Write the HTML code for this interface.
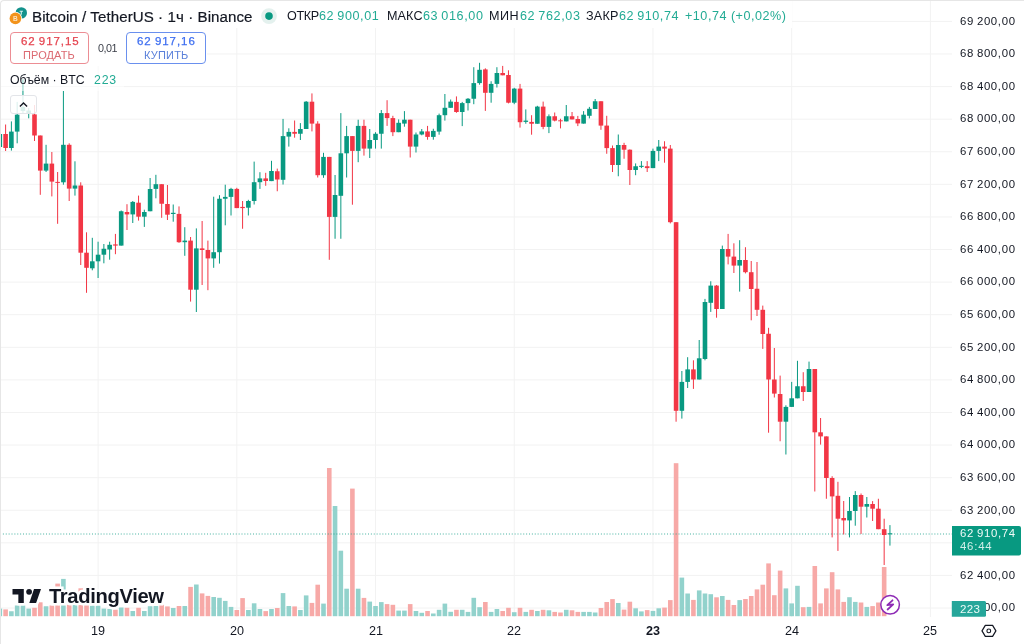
<!DOCTYPE html>
<html><head><meta charset="utf-8">
<style>
html,body{margin:0;padding:0;background:#fff;}
body{width:1024px;height:644px;overflow:hidden;position:relative;font-family:"Liberation Sans",sans-serif;}
.t{position:absolute;white-space:pre;font-family:"Liberation Sans",sans-serif;will-change:transform;}
#chart{position:absolute;left:0;top:0;}
.frame{position:absolute;left:0;top:0;width:1040px;height:700px;border-left:1px solid #e6e6e6;border-top:1px solid #e6e6e6;border-top-left-radius:4px;box-sizing:border-box;}
.box{position:absolute;box-sizing:border-box;border-radius:4px;background:#fff;}
</style></head><body>
<svg id="chart" width="1024" height="644" viewBox="0 0 1024 644">
<line x1='0' y1='21.40' x2='952' y2='21.40' stroke='#f2f2f2' stroke-width='1'/>
<line x1='0' y1='53.99' x2='952' y2='53.99' stroke='#f2f2f2' stroke-width='1'/>
<line x1='0' y1='86.58' x2='952' y2='86.58' stroke='#f2f2f2' stroke-width='1'/>
<line x1='0' y1='119.17' x2='952' y2='119.17' stroke='#f2f2f2' stroke-width='1'/>
<line x1='0' y1='151.76' x2='952' y2='151.76' stroke='#f2f2f2' stroke-width='1'/>
<line x1='0' y1='184.35' x2='952' y2='184.35' stroke='#f2f2f2' stroke-width='1'/>
<line x1='0' y1='216.94' x2='952' y2='216.94' stroke='#f2f2f2' stroke-width='1'/>
<line x1='0' y1='249.53' x2='952' y2='249.53' stroke='#f2f2f2' stroke-width='1'/>
<line x1='0' y1='282.12' x2='952' y2='282.12' stroke='#f2f2f2' stroke-width='1'/>
<line x1='0' y1='314.71' x2='952' y2='314.71' stroke='#f2f2f2' stroke-width='1'/>
<line x1='0' y1='347.30' x2='952' y2='347.30' stroke='#f2f2f2' stroke-width='1'/>
<line x1='0' y1='379.89' x2='952' y2='379.89' stroke='#f2f2f2' stroke-width='1'/>
<line x1='0' y1='412.48' x2='952' y2='412.48' stroke='#f2f2f2' stroke-width='1'/>
<line x1='0' y1='445.07' x2='952' y2='445.07' stroke='#f2f2f2' stroke-width='1'/>
<line x1='0' y1='477.66' x2='952' y2='477.66' stroke='#f2f2f2' stroke-width='1'/>
<line x1='0' y1='510.25' x2='952' y2='510.25' stroke='#f2f2f2' stroke-width='1'/>
<line x1='0' y1='542.84' x2='952' y2='542.84' stroke='#f2f2f2' stroke-width='1'/>
<line x1='0' y1='575.43' x2='952' y2='575.43' stroke='#f2f2f2' stroke-width='1'/>
<line x1='0' y1='608.02' x2='952' y2='608.02' stroke='#f2f2f2' stroke-width='1'/>
<line x1='98.08' y1='0' x2='98.08' y2='617' stroke='#f2f2f2' stroke-width='1'/>
<line x1='236.80' y1='0' x2='236.80' y2='617' stroke='#f2f2f2' stroke-width='1'/>
<line x1='375.52' y1='0' x2='375.52' y2='617' stroke='#f2f2f2' stroke-width='1'/>
<line x1='514.24' y1='0' x2='514.24' y2='617' stroke='#f2f2f2' stroke-width='1'/>
<line x1='652.96' y1='0' x2='652.96' y2='617' stroke='#f2f2f2' stroke-width='1'/>
<line x1='791.68' y1='0' x2='791.68' y2='617' stroke='#f2f2f2' stroke-width='1'/>
<line x1='930.40' y1='0' x2='930.40' y2='617' stroke='#f2f2f2' stroke-width='1'/>
<rect x='-2.48' y='608.60' width='4.6' height='7.60' fill='#92d2cc'/>
<rect x='3.30' y='609.40' width='4.6' height='6.80' fill='#f7a9a7'/>
<rect x='9.08' y='611.25' width='4.6' height='4.95' fill='#92d2cc'/>
<rect x='14.86' y='605.50' width='4.6' height='10.70' fill='#92d2cc'/>
<rect x='20.64' y='605.50' width='4.6' height='10.70' fill='#92d2cc'/>
<rect x='26.42' y='608.60' width='4.6' height='7.60' fill='#92d2cc'/>
<rect x='32.20' y='607.80' width='4.6' height='8.40' fill='#f7a9a7'/>
<rect x='37.98' y='602.30' width='4.6' height='13.90' fill='#f7a9a7'/>
<rect x='43.76' y='606.25' width='4.6' height='9.95' fill='#92d2cc'/>
<rect x='49.54' y='605.50' width='4.6' height='10.70' fill='#f7a9a7'/>
<rect x='55.32' y='583.60' width='4.6' height='32.60' fill='#f7a9a7'/>
<rect x='61.10' y='578.90' width='4.6' height='37.30' fill='#92d2cc'/>
<rect x='66.88' y='604.70' width='4.6' height='11.50' fill='#f7a9a7'/>
<rect x='72.66' y='604.70' width='4.6' height='11.50' fill='#92d2cc'/>
<rect x='78.44' y='588.30' width='4.6' height='27.90' fill='#f7a9a7'/>
<rect x='84.22' y='604.70' width='4.6' height='11.50' fill='#f7a9a7'/>
<rect x='90.00' y='605.50' width='4.6' height='10.70' fill='#92d2cc'/>
<rect x='95.78' y='605.50' width='4.6' height='10.70' fill='#92d2cc'/>
<rect x='101.56' y='608.60' width='4.6' height='7.60' fill='#92d2cc'/>
<rect x='107.34' y='609.00' width='4.6' height='7.20' fill='#92d2cc'/>
<rect x='113.12' y='609.70' width='4.6' height='6.50' fill='#f7a9a7'/>
<rect x='118.90' y='607.50' width='4.6' height='8.70' fill='#92d2cc'/>
<rect x='124.68' y='607.80' width='4.6' height='8.40' fill='#f7a9a7'/>
<rect x='130.46' y='611.00' width='4.6' height='5.20' fill='#92d2cc'/>
<rect x='136.24' y='607.80' width='4.6' height='8.40' fill='#f7a9a7'/>
<rect x='142.02' y='611.00' width='4.6' height='5.20' fill='#92d2cc'/>
<rect x='147.80' y='606.20' width='4.6' height='10.00' fill='#92d2cc'/>
<rect x='153.58' y='606.00' width='4.6' height='10.20' fill='#92d2cc'/>
<rect x='159.36' y='604.80' width='4.6' height='11.40' fill='#f7a9a7'/>
<rect x='165.14' y='606.40' width='4.6' height='9.80' fill='#f7a9a7'/>
<rect x='170.92' y='608.00' width='4.6' height='8.20' fill='#92d2cc'/>
<rect x='176.70' y='606.00' width='4.6' height='10.20' fill='#f7a9a7'/>
<rect x='182.48' y='606.00' width='4.6' height='10.20' fill='#92d2cc'/>
<rect x='188.26' y='586.90' width='4.6' height='29.30' fill='#f7a9a7'/>
<rect x='194.04' y='584.50' width='4.6' height='31.70' fill='#92d2cc'/>
<rect x='199.82' y='593.40' width='4.6' height='22.80' fill='#f7a9a7'/>
<rect x='205.60' y='595.90' width='4.6' height='20.30' fill='#f7a9a7'/>
<rect x='211.38' y='597.00' width='4.6' height='19.20' fill='#92d2cc'/>
<rect x='217.16' y='597.80' width='4.6' height='18.40' fill='#92d2cc'/>
<rect x='222.94' y='600.90' width='4.6' height='15.30' fill='#92d2cc'/>
<rect x='228.72' y='606.90' width='4.6' height='9.30' fill='#92d2cc'/>
<rect x='234.50' y='610.00' width='4.6' height='6.20' fill='#f7a9a7'/>
<rect x='240.28' y='598.10' width='4.6' height='18.10' fill='#f7a9a7'/>
<rect x='246.06' y='610.00' width='4.6' height='6.20' fill='#92d2cc'/>
<rect x='251.84' y='603.30' width='4.6' height='12.90' fill='#92d2cc'/>
<rect x='257.62' y='609.00' width='4.6' height='7.20' fill='#92d2cc'/>
<rect x='263.40' y='611.10' width='4.6' height='5.10' fill='#f7a9a7'/>
<rect x='269.18' y='609.00' width='4.6' height='7.20' fill='#92d2cc'/>
<rect x='274.96' y='608.00' width='4.6' height='8.20' fill='#f7a9a7'/>
<rect x='280.74' y='593.10' width='4.6' height='23.10' fill='#92d2cc'/>
<rect x='286.52' y='606.00' width='4.6' height='10.20' fill='#92d2cc'/>
<rect x='292.30' y='606.40' width='4.6' height='9.80' fill='#f7a9a7'/>
<rect x='298.08' y='610.00' width='4.6' height='6.20' fill='#92d2cc'/>
<rect x='303.86' y='595.40' width='4.6' height='20.80' fill='#92d2cc'/>
<rect x='309.64' y='602.90' width='4.6' height='13.30' fill='#f7a9a7'/>
<rect x='315.42' y='584.70' width='4.6' height='31.50' fill='#f7a9a7'/>
<rect x='321.20' y='603.60' width='4.6' height='12.60' fill='#92d2cc'/>
<rect x='326.98' y='468.00' width='4.6' height='148.20' fill='#f7a9a7'/>
<rect x='332.76' y='506.00' width='4.6' height='110.20' fill='#92d2cc'/>
<rect x='338.54' y='550.70' width='4.6' height='65.50' fill='#92d2cc'/>
<rect x='344.32' y='588.70' width='4.6' height='27.50' fill='#92d2cc'/>
<rect x='350.10' y='488.60' width='4.6' height='127.60' fill='#f7a9a7'/>
<rect x='355.88' y='588.70' width='4.6' height='27.50' fill='#92d2cc'/>
<rect x='361.66' y='597.90' width='4.6' height='18.30' fill='#f7a9a7'/>
<rect x='367.44' y='601.60' width='4.6' height='14.60' fill='#92d2cc'/>
<rect x='373.22' y='606.00' width='4.6' height='10.20' fill='#92d2cc'/>
<rect x='379.00' y='602.10' width='4.6' height='14.10' fill='#92d2cc'/>
<rect x='384.78' y='604.10' width='4.6' height='12.10' fill='#f7a9a7'/>
<rect x='390.56' y='604.80' width='4.6' height='11.40' fill='#f7a9a7'/>
<rect x='396.34' y='610.60' width='4.6' height='5.60' fill='#92d2cc'/>
<rect x='402.12' y='610.60' width='4.6' height='5.60' fill='#92d2cc'/>
<rect x='407.90' y='604.10' width='4.6' height='12.10' fill='#f7a9a7'/>
<rect x='413.68' y='611.00' width='4.6' height='5.20' fill='#92d2cc'/>
<rect x='419.46' y='612.80' width='4.6' height='3.40' fill='#92d2cc'/>
<rect x='425.24' y='611.00' width='4.6' height='5.20' fill='#f7a9a7'/>
<rect x='431.02' y='613.50' width='4.6' height='2.70' fill='#92d2cc'/>
<rect x='436.80' y='609.80' width='4.6' height='6.40' fill='#92d2cc'/>
<rect x='442.58' y='603.60' width='4.6' height='12.60' fill='#92d2cc'/>
<rect x='448.36' y='611.80' width='4.6' height='4.40' fill='#92d2cc'/>
<rect x='454.14' y='609.80' width='4.6' height='6.40' fill='#f7a9a7'/>
<rect x='459.92' y='609.80' width='4.6' height='6.40' fill='#92d2cc'/>
<rect x='465.70' y='611.90' width='4.6' height='4.30' fill='#92d2cc'/>
<rect x='471.48' y='597.80' width='4.6' height='18.40' fill='#92d2cc'/>
<rect x='477.26' y='607.20' width='4.6' height='9.00' fill='#92d2cc'/>
<rect x='483.04' y='602.00' width='4.6' height='14.20' fill='#f7a9a7'/>
<rect x='488.82' y='611.90' width='4.6' height='4.30' fill='#92d2cc'/>
<rect x='494.60' y='609.00' width='4.6' height='7.20' fill='#92d2cc'/>
<rect x='500.38' y='611.00' width='4.6' height='5.20' fill='#f7a9a7'/>
<rect x='506.16' y='607.80' width='4.6' height='8.40' fill='#f7a9a7'/>
<rect x='511.94' y='612.20' width='4.6' height='4.00' fill='#92d2cc'/>
<rect x='517.72' y='607.80' width='4.6' height='8.40' fill='#f7a9a7'/>
<rect x='523.50' y='611.90' width='4.6' height='4.30' fill='#92d2cc'/>
<rect x='529.28' y='609.80' width='4.6' height='6.40' fill='#f7a9a7'/>
<rect x='535.06' y='611.00' width='4.6' height='5.20' fill='#92d2cc'/>
<rect x='540.84' y='609.80' width='4.6' height='6.40' fill='#f7a9a7'/>
<rect x='546.62' y='610.30' width='4.6' height='5.90' fill='#92d2cc'/>
<rect x='552.40' y='611.90' width='4.6' height='4.30' fill='#f7a9a7'/>
<rect x='558.18' y='612.50' width='4.6' height='3.70' fill='#f7a9a7'/>
<rect x='563.96' y='609.80' width='4.6' height='6.40' fill='#92d2cc'/>
<rect x='569.74' y='610.30' width='4.6' height='5.90' fill='#f7a9a7'/>
<rect x='575.52' y='611.90' width='4.6' height='4.30' fill='#f7a9a7'/>
<rect x='581.30' y='611.90' width='4.6' height='4.30' fill='#92d2cc'/>
<rect x='587.08' y='611.90' width='4.6' height='4.30' fill='#92d2cc'/>
<rect x='592.86' y='612.50' width='4.6' height='3.70' fill='#92d2cc'/>
<rect x='598.64' y='608.00' width='4.6' height='8.20' fill='#f7a9a7'/>
<rect x='604.42' y='602.00' width='4.6' height='14.20' fill='#f7a9a7'/>
<rect x='610.20' y='599.10' width='4.6' height='17.10' fill='#f7a9a7'/>
<rect x='615.98' y='603.00' width='4.6' height='13.20' fill='#92d2cc'/>
<rect x='621.76' y='609.60' width='4.6' height='6.60' fill='#f7a9a7'/>
<rect x='627.54' y='601.70' width='4.6' height='14.50' fill='#f7a9a7'/>
<rect x='633.32' y='608.30' width='4.6' height='7.90' fill='#92d2cc'/>
<rect x='639.10' y='611.40' width='4.6' height='4.80' fill='#92d2cc'/>
<rect x='644.88' y='610.10' width='4.6' height='6.10' fill='#f7a9a7'/>
<rect x='650.66' y='610.90' width='4.6' height='5.30' fill='#92d2cc'/>
<rect x='656.44' y='608.30' width='4.6' height='7.90' fill='#92d2cc'/>
<rect x='662.22' y='607.60' width='4.6' height='8.60' fill='#f7a9a7'/>
<rect x='668.00' y='600.10' width='4.6' height='16.10' fill='#f7a9a7'/>
<rect x='673.78' y='463.20' width='4.6' height='153.00' fill='#f7a9a7'/>
<rect x='679.56' y='577.60' width='4.6' height='38.60' fill='#92d2cc'/>
<rect x='685.34' y='593.50' width='4.6' height='22.70' fill='#92d2cc'/>
<rect x='691.12' y='599.90' width='4.6' height='16.30' fill='#f7a9a7'/>
<rect x='696.90' y='590.40' width='4.6' height='25.80' fill='#92d2cc'/>
<rect x='702.68' y='593.50' width='4.6' height='22.70' fill='#92d2cc'/>
<rect x='708.46' y='594.20' width='4.6' height='22.00' fill='#92d2cc'/>
<rect x='714.24' y='597.30' width='4.6' height='18.90' fill='#f7a9a7'/>
<rect x='720.02' y='596.00' width='4.6' height='20.20' fill='#92d2cc'/>
<rect x='725.80' y='599.90' width='4.6' height='16.30' fill='#f7a9a7'/>
<rect x='731.58' y='605.00' width='4.6' height='11.20' fill='#f7a9a7'/>
<rect x='737.36' y='600.10' width='4.6' height='16.10' fill='#92d2cc'/>
<rect x='743.14' y='599.00' width='4.6' height='17.20' fill='#f7a9a7'/>
<rect x='748.92' y='596.00' width='4.6' height='20.20' fill='#f7a9a7'/>
<rect x='754.70' y='589.40' width='4.6' height='26.80' fill='#f7a9a7'/>
<rect x='760.48' y='584.70' width='4.6' height='31.50' fill='#f7a9a7'/>
<rect x='766.26' y='563.40' width='4.6' height='52.80' fill='#f7a9a7'/>
<rect x='772.04' y='595.20' width='4.6' height='21.00' fill='#f7a9a7'/>
<rect x='777.82' y='570.60' width='4.6' height='45.60' fill='#f7a9a7'/>
<rect x='783.60' y='588.40' width='4.6' height='27.80' fill='#92d2cc'/>
<rect x='789.38' y='603.40' width='4.6' height='12.80' fill='#92d2cc'/>
<rect x='795.16' y='585.80' width='4.6' height='30.40' fill='#92d2cc'/>
<rect x='800.94' y='607.20' width='4.6' height='9.00' fill='#f7a9a7'/>
<rect x='806.72' y='606.90' width='4.6' height='9.30' fill='#92d2cc'/>
<rect x='812.50' y='566.00' width='4.6' height='50.20' fill='#f7a9a7'/>
<rect x='818.28' y='603.40' width='4.6' height='12.80' fill='#f7a9a7'/>
<rect x='824.06' y='588.40' width='4.6' height='27.80' fill='#f7a9a7'/>
<rect x='829.84' y='572.20' width='4.6' height='44.00' fill='#f7a9a7'/>
<rect x='835.62' y='589.40' width='4.6' height='26.80' fill='#f7a9a7'/>
<rect x='841.40' y='601.90' width='4.6' height='14.30' fill='#f7a9a7'/>
<rect x='847.18' y='597.20' width='4.6' height='19.00' fill='#92d2cc'/>
<rect x='852.96' y='601.90' width='4.6' height='14.30' fill='#92d2cc'/>
<rect x='858.74' y='602.50' width='4.6' height='13.70' fill='#f7a9a7'/>
<rect x='864.52' y='606.90' width='4.6' height='9.30' fill='#92d2cc'/>
<rect x='870.30' y='606.10' width='4.6' height='10.10' fill='#f7a9a7'/>
<rect x='876.08' y='602.50' width='4.6' height='13.70' fill='#f7a9a7'/>
<rect x='881.86' y='567.00' width='4.6' height='49.20' fill='#f7a9a7'/>
<line x1='0' y1='534' x2='952' y2='534' stroke='#089981' stroke-width='1' stroke-dasharray='1 1.875' opacity='0.75'/>
<rect x='-0.68' y='134.00' width='1' height='16.00' fill='#089981'/>
<rect x='-2.48' y='134.00' width='4.6' height='13.00' fill='#089981'/>
<rect x='5.10' y='124.50' width='1' height='26.50' fill='#f23645'/>
<rect x='3.30' y='134.00' width='4.6' height='14.00' fill='#f23645'/>
<rect x='10.88' y='121.40' width='1' height='29.20' fill='#089981'/>
<rect x='9.08' y='131.60' width='4.6' height='16.40' fill='#089981'/>
<rect x='16.66' y='101.90' width='1' height='41.40' fill='#089981'/>
<rect x='14.86' y='114.70' width='4.6' height='16.90' fill='#089981'/>
<rect x='22.44' y='79.40' width='1' height='33.60' fill='#089981'/>
<rect x='20.64' y='107.00' width='4.6' height='4.00' fill='#089981'/>
<rect x='28.22' y='108.00' width='1' height='10.30' fill='#089981'/>
<rect x='26.42' y='110.50' width='4.6' height='3.10' fill='#089981'/>
<rect x='34.00' y='105.00' width='1' height='36.00' fill='#f23645'/>
<rect x='32.20' y='114.40' width='4.6' height='21.10' fill='#f23645'/>
<rect x='39.78' y='135.50' width='1' height='59.30' fill='#f23645'/>
<rect x='37.98' y='135.50' width='4.6' height='35.10' fill='#f23645'/>
<rect x='45.56' y='144.80' width='1' height='27.20' fill='#089981'/>
<rect x='43.76' y='163.60' width='4.6' height='7.00' fill='#089981'/>
<rect x='51.34' y='152.00' width='1' height='44.40' fill='#f23645'/>
<rect x='49.54' y='163.60' width='4.6' height='18.00' fill='#f23645'/>
<rect x='57.12' y='172.00' width='1' height='51.80' fill='#f23645'/>
<rect x='55.32' y='181.90' width='4.6' height='1.00' fill='#f23645'/>
<rect x='62.90' y='91.00' width='1' height='93.70' fill='#089981'/>
<rect x='61.10' y='144.80' width='4.6' height='37.50' fill='#089981'/>
<rect x='68.68' y='143.30' width='1' height='57.70' fill='#f23645'/>
<rect x='66.88' y='144.80' width='4.6' height='43.80' fill='#f23645'/>
<rect x='74.46' y='161.30' width='1' height='34.30' fill='#089981'/>
<rect x='72.66' y='185.50' width='4.6' height='3.10' fill='#089981'/>
<rect x='80.24' y='182.30' width='1' height='82.70' fill='#f23645'/>
<rect x='78.44' y='185.50' width='4.6' height='67.20' fill='#f23645'/>
<rect x='86.02' y='232.30' width='1' height='60.50' fill='#f23645'/>
<rect x='84.22' y='252.70' width='4.6' height='15.10' fill='#f23645'/>
<rect x='91.80' y='237.80' width='1' height='32.50' fill='#089981'/>
<rect x='90.00' y='261.30' width='4.6' height='7.00' fill='#089981'/>
<rect x='97.58' y='241.70' width='1' height='36.30' fill='#089981'/>
<rect x='95.78' y='254.70' width='4.6' height='6.60' fill='#089981'/>
<rect x='103.36' y='244.00' width='1' height='19.30' fill='#089981'/>
<rect x='101.56' y='248.75' width='4.6' height='5.95' fill='#089981'/>
<rect x='109.14' y='241.70' width='1' height='18.00' fill='#089981'/>
<rect x='107.34' y='244.80' width='4.6' height='4.70' fill='#089981'/>
<rect x='114.92' y='233.90' width='1' height='20.30' fill='#f23645'/>
<rect x='113.12' y='244.40' width='4.6' height='1.20' fill='#f23645'/>
<rect x='120.70' y='210.50' width='1' height='35.10' fill='#089981'/>
<rect x='118.90' y='211.25' width='4.6' height='34.35' fill='#089981'/>
<rect x='126.48' y='204.20' width='1' height='25.80' fill='#f23645'/>
<rect x='124.68' y='212.00' width='4.6' height='2.40' fill='#f23645'/>
<rect x='132.26' y='201.00' width='1' height='22.00' fill='#089981'/>
<rect x='130.46' y='201.90' width='4.6' height='12.50' fill='#089981'/>
<rect x='138.04' y='195.60' width='1' height='25.00' fill='#f23645'/>
<rect x='136.24' y='202.70' width='4.6' height='14.00' fill='#f23645'/>
<rect x='143.82' y='209.70' width='1' height='17.20' fill='#089981'/>
<rect x='142.02' y='212.00' width='4.6' height='4.70' fill='#089981'/>
<rect x='149.60' y='178.00' width='1' height='33.25' fill='#089981'/>
<rect x='147.80' y='189.00' width='4.6' height='22.25' fill='#089981'/>
<rect x='155.38' y='174.80' width='1' height='23.50' fill='#089981'/>
<rect x='153.58' y='184.20' width='4.6' height='4.70' fill='#089981'/>
<rect x='161.16' y='184.20' width='1' height='33.60' fill='#f23645'/>
<rect x='159.36' y='184.20' width='4.6' height='19.55' fill='#f23645'/>
<rect x='166.94' y='185.00' width='1' height='35.00' fill='#f23645'/>
<rect x='165.14' y='204.00' width='4.6' height='10.70' fill='#f23645'/>
<rect x='172.72' y='204.50' width='1' height='17.20' fill='#089981'/>
<rect x='170.92' y='212.80' width='4.6' height='1.20' fill='#089981'/>
<rect x='178.50' y='206.40' width='1' height='36.40' fill='#f23645'/>
<rect x='176.70' y='213.90' width='4.6' height='28.30' fill='#f23645'/>
<rect x='184.28' y='227.20' width='1' height='28.60' fill='#089981'/>
<rect x='182.48' y='240.60' width='4.6' height='1.60' fill='#089981'/>
<rect x='190.06' y='237.00' width='1' height='64.60' fill='#f23645'/>
<rect x='188.26' y='240.60' width='4.6' height='49.10' fill='#f23645'/>
<rect x='195.84' y='228.40' width='1' height='83.60' fill='#089981'/>
<rect x='194.04' y='248.40' width='4.6' height='41.30' fill='#089981'/>
<rect x='201.62' y='221.00' width='1' height='64.00' fill='#f23645'/>
<rect x='199.82' y='248.40' width='4.6' height='1.60' fill='#f23645'/>
<rect x='207.40' y='240.60' width='1' height='49.60' fill='#f23645'/>
<rect x='205.60' y='250.00' width='4.6' height='8.40' fill='#f23645'/>
<rect x='213.18' y='196.70' width='1' height='71.10' fill='#089981'/>
<rect x='211.38' y='252.20' width='4.6' height='6.20' fill='#089981'/>
<rect x='218.96' y='195.20' width='1' height='68.40' fill='#089981'/>
<rect x='217.16' y='198.75' width='4.6' height='53.45' fill='#089981'/>
<rect x='224.74' y='184.70' width='1' height='40.60' fill='#089981'/>
<rect x='222.94' y='196.90' width='4.6' height='1.85' fill='#089981'/>
<rect x='230.52' y='187.80' width='1' height='27.70' fill='#089981'/>
<rect x='228.72' y='188.90' width='4.6' height='8.00' fill='#089981'/>
<rect x='236.30' y='187.80' width='1' height='20.30' fill='#f23645'/>
<rect x='234.50' y='188.90' width='4.6' height='19.20' fill='#f23645'/>
<rect x='242.08' y='201.00' width='1' height='27.75' fill='#f23645'/>
<rect x='240.28' y='206.90' width='4.6' height='1.20' fill='#f23645'/>
<rect x='247.86' y='199.80' width='1' height='15.70' fill='#089981'/>
<rect x='246.06' y='201.00' width='4.6' height='6.70' fill='#089981'/>
<rect x='253.64' y='161.60' width='1' height='42.90' fill='#089981'/>
<rect x='251.84' y='182.20' width='4.6' height='18.80' fill='#089981'/>
<rect x='259.42' y='172.20' width='1' height='16.70' fill='#089981'/>
<rect x='257.62' y='178.40' width='4.6' height='3.80' fill='#089981'/>
<rect x='265.20' y='172.80' width='1' height='13.00' fill='#f23645'/>
<rect x='263.40' y='178.40' width='4.6' height='2.60' fill='#f23645'/>
<rect x='270.98' y='160.80' width='1' height='20.30' fill='#089981'/>
<rect x='269.18' y='171.00' width='4.6' height='10.10' fill='#089981'/>
<rect x='276.76' y='168.60' width='1' height='22.65' fill='#f23645'/>
<rect x='274.96' y='171.25' width='4.6' height='8.25' fill='#f23645'/>
<rect x='282.54' y='118.90' width='1' height='65.60' fill='#089981'/>
<rect x='280.74' y='136.10' width='4.6' height='43.70' fill='#089981'/>
<rect x='288.32' y='128.30' width='1' height='18.30' fill='#089981'/>
<rect x='286.52' y='131.90' width='4.6' height='4.70' fill='#089981'/>
<rect x='294.10' y='120.50' width='1' height='17.20' fill='#f23645'/>
<rect x='292.30' y='131.90' width='4.6' height='1.85' fill='#f23645'/>
<rect x='299.88' y='123.10' width='1' height='16.90' fill='#089981'/>
<rect x='298.08' y='129.00' width='4.6' height='4.75' fill='#089981'/>
<rect x='305.66' y='101.00' width='1' height='28.00' fill='#089981'/>
<rect x='303.86' y='101.70' width='4.6' height='27.30' fill='#089981'/>
<rect x='311.44' y='93.40' width='1' height='38.00' fill='#f23645'/>
<rect x='309.64' y='101.70' width='4.6' height='21.90' fill='#f23645'/>
<rect x='317.22' y='121.25' width='1' height='56.25' fill='#f23645'/>
<rect x='315.42' y='123.60' width='4.6' height='51.60' fill='#f23645'/>
<rect x='323.00' y='152.80' width='1' height='25.00' fill='#089981'/>
<rect x='321.20' y='156.90' width='4.6' height='18.30' fill='#089981'/>
<rect x='328.78' y='156.90' width='1' height='102.90' fill='#f23645'/>
<rect x='326.98' y='156.90' width='4.6' height='60.00' fill='#f23645'/>
<rect x='334.56' y='175.00' width='1' height='63.75' fill='#089981'/>
<rect x='332.76' y='195.00' width='4.6' height='21.90' fill='#089981'/>
<rect x='340.34' y='113.10' width='1' height='125.65' fill='#089981'/>
<rect x='338.54' y='153.30' width='4.6' height='42.50' fill='#089981'/>
<rect x='346.12' y='125.90' width='1' height='51.60' fill='#089981'/>
<rect x='344.32' y='136.10' width='4.6' height='17.20' fill='#089981'/>
<rect x='351.90' y='136.10' width='1' height='68.60' fill='#f23645'/>
<rect x='350.10' y='136.10' width='4.6' height='14.80' fill='#f23645'/>
<rect x='357.68' y='119.70' width='1' height='42.50' fill='#089981'/>
<rect x='355.88' y='125.90' width='4.6' height='25.00' fill='#089981'/>
<rect x='363.46' y='119.70' width='1' height='35.90' fill='#f23645'/>
<rect x='361.66' y='125.90' width='4.6' height='22.70' fill='#f23645'/>
<rect x='369.24' y='129.00' width='1' height='29.00' fill='#089981'/>
<rect x='367.44' y='140.00' width='4.6' height='8.60' fill='#089981'/>
<rect x='375.02' y='132.20' width='1' height='16.40' fill='#089981'/>
<rect x='373.22' y='133.75' width='4.6' height='6.25' fill='#089981'/>
<rect x='380.80' y='110.00' width='1' height='38.60' fill='#089981'/>
<rect x='379.00' y='113.10' width='4.6' height='20.65' fill='#089981'/>
<rect x='386.58' y='100.20' width='1' height='25.70' fill='#f23645'/>
<rect x='384.78' y='113.10' width='4.6' height='5.00' fill='#f23645'/>
<rect x='392.36' y='115.80' width='1' height='20.30' fill='#f23645'/>
<rect x='390.56' y='118.10' width='4.6' height='14.10' fill='#f23645'/>
<rect x='398.14' y='119.40' width='1' height='12.80' fill='#089981'/>
<rect x='396.34' y='122.80' width='4.6' height='9.40' fill='#089981'/>
<rect x='403.92' y='111.10' width='1' height='15.60' fill='#089981'/>
<rect x='402.12' y='119.70' width='4.6' height='3.90' fill='#089981'/>
<rect x='409.70' y='119.70' width='1' height='37.80' fill='#f23645'/>
<rect x='407.90' y='119.70' width='4.6' height='26.90' fill='#f23645'/>
<rect x='415.48' y='132.50' width='1' height='20.00' fill='#089981'/>
<rect x='413.68' y='134.50' width='4.6' height='12.10' fill='#089981'/>
<rect x='421.26' y='129.00' width='1' height='6.30' fill='#089981'/>
<rect x='419.46' y='131.40' width='4.6' height='3.10' fill='#089981'/>
<rect x='427.04' y='125.90' width='1' height='13.80' fill='#f23645'/>
<rect x='425.24' y='131.40' width='4.6' height='5.50' fill='#f23645'/>
<rect x='432.82' y='128.75' width='1' height='10.95' fill='#089981'/>
<rect x='431.02' y='130.90' width='4.6' height='6.00' fill='#089981'/>
<rect x='438.60' y='113.60' width='1' height='21.10' fill='#089981'/>
<rect x='436.80' y='115.20' width='4.6' height='16.40' fill='#089981'/>
<rect x='444.38' y='94.00' width='1' height='26.60' fill='#089981'/>
<rect x='442.58' y='107.80' width='4.6' height='7.40' fill='#089981'/>
<rect x='450.16' y='99.50' width='1' height='8.30' fill='#089981'/>
<rect x='448.36' y='101.60' width='4.6' height='6.20' fill='#089981'/>
<rect x='455.94' y='96.40' width='1' height='16.40' fill='#f23645'/>
<rect x='454.14' y='101.90' width='4.6' height='10.10' fill='#f23645'/>
<rect x='461.72' y='101.90' width='1' height='24.20' fill='#089981'/>
<rect x='459.92' y='103.10' width='4.6' height='8.90' fill='#089981'/>
<rect x='467.50' y='98.00' width='1' height='12.50' fill='#089981'/>
<rect x='465.70' y='98.75' width='4.6' height='4.35' fill='#089981'/>
<rect x='473.28' y='67.20' width='1' height='37.00' fill='#089981'/>
<rect x='471.48' y='83.10' width='4.6' height='15.65' fill='#089981'/>
<rect x='479.06' y='62.80' width='1' height='21.90' fill='#089981'/>
<rect x='477.26' y='69.80' width='4.6' height='13.30' fill='#089981'/>
<rect x='484.84' y='68.30' width='1' height='42.60' fill='#f23645'/>
<rect x='483.04' y='69.40' width='4.6' height='23.40' fill='#f23645'/>
<rect x='490.62' y='81.25' width='1' height='21.45' fill='#089981'/>
<rect x='488.82' y='83.90' width='4.6' height='8.90' fill='#089981'/>
<rect x='496.40' y='67.20' width='1' height='20.30' fill='#089981'/>
<rect x='494.60' y='73.00' width='4.6' height='10.90' fill='#089981'/>
<rect x='502.18' y='65.90' width='1' height='9.40' fill='#f23645'/>
<rect x='500.38' y='73.00' width='4.6' height='2.30' fill='#f23645'/>
<rect x='507.96' y='70.30' width='1' height='33.10' fill='#f23645'/>
<rect x='506.16' y='75.00' width='4.6' height='27.70' fill='#f23645'/>
<rect x='513.74' y='87.80' width='1' height='16.40' fill='#089981'/>
<rect x='511.94' y='88.60' width='4.6' height='14.10' fill='#089981'/>
<rect x='519.52' y='83.90' width='1' height='43.70' fill='#f23645'/>
<rect x='517.72' y='88.60' width='4.6' height='33.60' fill='#f23645'/>
<rect x='525.30' y='109.40' width='1' height='14.35' fill='#089981'/>
<rect x='523.50' y='120.60' width='4.6' height='1.30' fill='#089981'/>
<rect x='531.08' y='115.20' width='1' height='19.50' fill='#f23645'/>
<rect x='529.28' y='121.90' width='4.6' height='1.85' fill='#f23645'/>
<rect x='536.86' y='105.80' width='1' height='17.95' fill='#089981'/>
<rect x='535.06' y='106.60' width='4.6' height='17.15' fill='#089981'/>
<rect x='542.64' y='101.60' width='1' height='27.60' fill='#f23645'/>
<rect x='540.84' y='106.60' width='4.6' height='20.30' fill='#f23645'/>
<rect x='548.42' y='114.40' width='1' height='18.70' fill='#089981'/>
<rect x='546.62' y='116.25' width='4.6' height='10.65' fill='#089981'/>
<rect x='554.20' y='112.50' width='1' height='8.90' fill='#f23645'/>
<rect x='552.40' y='116.25' width='4.6' height='4.35' fill='#f23645'/>
<rect x='559.98' y='118.75' width='1' height='9.65' fill='#f23645'/>
<rect x='558.18' y='120.30' width='4.6' height='1.00' fill='#f23645'/>
<rect x='565.76' y='105.00' width='1' height='16.40' fill='#089981'/>
<rect x='563.96' y='116.25' width='4.6' height='5.15' fill='#089981'/>
<rect x='571.54' y='112.00' width='1' height='7.40' fill='#f23645'/>
<rect x='569.74' y='116.25' width='4.6' height='3.15' fill='#f23645'/>
<rect x='577.32' y='115.90' width='1' height='10.20' fill='#f23645'/>
<rect x='575.52' y='119.00' width='4.6' height='4.40' fill='#f23645'/>
<rect x='583.10' y='111.10' width='1' height='12.50' fill='#089981'/>
<rect x='581.30' y='114.70' width='4.6' height='8.90' fill='#089981'/>
<rect x='588.88' y='106.90' width='1' height='11.50' fill='#089981'/>
<rect x='587.08' y='108.75' width='4.6' height='7.05' fill='#089981'/>
<rect x='594.66' y='99.00' width='1' height='10.00' fill='#089981'/>
<rect x='592.86' y='101.25' width='4.6' height='7.75' fill='#089981'/>
<rect x='600.44' y='101.25' width='1' height='28.55' fill='#f23645'/>
<rect x='598.64' y='101.25' width='4.6' height='24.35' fill='#f23645'/>
<rect x='606.22' y='115.80' width='1' height='37.95' fill='#f23645'/>
<rect x='604.42' y='125.60' width='4.6' height='22.50' fill='#f23645'/>
<rect x='612.00' y='145.50' width='1' height='26.50' fill='#f23645'/>
<rect x='610.20' y='148.10' width='4.6' height='16.90' fill='#f23645'/>
<rect x='617.78' y='134.50' width='1' height='41.75' fill='#089981'/>
<rect x='615.98' y='145.00' width='4.6' height='20.00' fill='#089981'/>
<rect x='623.56' y='142.80' width='1' height='15.95' fill='#f23645'/>
<rect x='621.76' y='145.00' width='4.6' height='4.70' fill='#f23645'/>
<rect x='629.34' y='149.40' width='1' height='35.60' fill='#f23645'/>
<rect x='627.54' y='149.70' width='4.6' height='20.30' fill='#f23645'/>
<rect x='635.12' y='163.40' width='1' height='11.80' fill='#089981'/>
<rect x='633.32' y='166.25' width='4.6' height='3.75' fill='#089981'/>
<rect x='640.90' y='161.10' width='1' height='7.00' fill='#089981'/>
<rect x='639.10' y='165.80' width='4.6' height='1.10' fill='#089981'/>
<rect x='646.68' y='161.10' width='1' height='10.90' fill='#f23645'/>
<rect x='644.88' y='166.25' width='4.6' height='1.85' fill='#f23645'/>
<rect x='652.46' y='148.60' width='1' height='19.50' fill='#089981'/>
<rect x='650.66' y='150.90' width='4.6' height='17.20' fill='#089981'/>
<rect x='658.24' y='140.00' width='1' height='21.10' fill='#089981'/>
<rect x='656.44' y='146.60' width='4.6' height='4.30' fill='#089981'/>
<rect x='664.02' y='141.25' width='1' height='21.45' fill='#f23645'/>
<rect x='662.22' y='146.60' width='4.6' height='2.00' fill='#f23645'/>
<rect x='669.80' y='145.00' width='1' height='78.40' fill='#f23645'/>
<rect x='668.00' y='148.60' width='4.6' height='73.60' fill='#f23645'/>
<rect x='675.58' y='222.20' width='1' height='199.50' fill='#f23645'/>
<rect x='673.78' y='222.20' width='4.6' height='188.60' fill='#f23645'/>
<rect x='681.36' y='371.00' width='1' height='47.60' fill='#089981'/>
<rect x='679.56' y='381.90' width='4.6' height='28.90' fill='#089981'/>
<rect x='687.14' y='357.20' width='1' height='30.80' fill='#089981'/>
<rect x='685.34' y='369.40' width='4.6' height='12.50' fill='#089981'/>
<rect x='692.92' y='360.30' width='1' height='28.60' fill='#f23645'/>
<rect x='691.12' y='369.40' width='4.6' height='10.10' fill='#f23645'/>
<rect x='698.70' y='340.00' width='1' height='39.50' fill='#089981'/>
<rect x='696.90' y='358.30' width='4.6' height='21.20' fill='#089981'/>
<rect x='704.48' y='298.90' width='1' height='61.40' fill='#089981'/>
<rect x='702.68' y='302.00' width='4.6' height='57.00' fill='#089981'/>
<rect x='710.26' y='281.25' width='1' height='30.65' fill='#089981'/>
<rect x='708.46' y='285.60' width='4.6' height='17.20' fill='#089981'/>
<rect x='716.04' y='285.00' width='1' height='32.70' fill='#f23645'/>
<rect x='714.24' y='285.60' width='4.6' height='23.40' fill='#f23645'/>
<rect x='721.82' y='245.60' width='1' height='63.40' fill='#089981'/>
<rect x='720.02' y='249.00' width='4.6' height='60.00' fill='#089981'/>
<rect x='727.60' y='233.90' width='1' height='30.50' fill='#f23645'/>
<rect x='725.80' y='249.00' width='4.6' height='7.60' fill='#f23645'/>
<rect x='733.38' y='243.30' width='1' height='29.70' fill='#f23645'/>
<rect x='731.58' y='256.60' width='4.6' height='9.00' fill='#f23645'/>
<rect x='739.16' y='240.20' width='1' height='51.40' fill='#089981'/>
<rect x='737.36' y='260.00' width='4.6' height='5.60' fill='#089981'/>
<rect x='744.94' y='247.20' width='1' height='26.20' fill='#f23645'/>
<rect x='743.14' y='260.00' width='4.6' height='12.20' fill='#f23645'/>
<rect x='750.72' y='261.00' width='1' height='59.30' fill='#f23645'/>
<rect x='748.92' y='272.20' width='4.6' height='16.80' fill='#f23645'/>
<rect x='756.50' y='262.00' width='1' height='54.00' fill='#f23645'/>
<rect x='754.70' y='288.75' width='4.6' height='21.05' fill='#f23645'/>
<rect x='762.28' y='305.60' width='1' height='43.30' fill='#f23645'/>
<rect x='760.48' y='309.80' width='4.6' height='24.20' fill='#f23645'/>
<rect x='768.06' y='327.80' width='1' height='104.90' fill='#f23645'/>
<rect x='766.26' y='333.75' width='4.6' height='45.75' fill='#f23645'/>
<rect x='773.84' y='348.00' width='1' height='49.50' fill='#f23645'/>
<rect x='772.04' y='379.50' width='4.6' height='14.10' fill='#f23645'/>
<rect x='779.62' y='375.60' width='1' height='65.65' fill='#f23645'/>
<rect x='777.82' y='394.00' width='4.6' height='27.70' fill='#f23645'/>
<rect x='785.40' y='405.30' width='1' height='49.20' fill='#089981'/>
<rect x='783.60' y='406.90' width='4.6' height='14.80' fill='#089981'/>
<rect x='791.18' y='381.90' width='1' height='25.00' fill='#089981'/>
<rect x='789.38' y='398.30' width='4.6' height='8.60' fill='#089981'/>
<rect x='796.96' y='360.80' width='1' height='37.50' fill='#089981'/>
<rect x='795.16' y='386.25' width='4.6' height='12.05' fill='#089981'/>
<rect x='802.74' y='372.20' width='1' height='28.80' fill='#f23645'/>
<rect x='800.94' y='386.25' width='4.6' height='5.75' fill='#f23645'/>
<rect x='808.52' y='361.60' width='1' height='30.40' fill='#089981'/>
<rect x='806.72' y='369.00' width='4.6' height='23.00' fill='#089981'/>
<rect x='814.30' y='369.00' width='1' height='122.50' fill='#f23645'/>
<rect x='812.50' y='369.00' width='4.6' height='63.30' fill='#f23645'/>
<rect x='820.08' y='418.00' width='1' height='26.60' fill='#f23645'/>
<rect x='818.28' y='432.30' width='4.6' height='4.10' fill='#f23645'/>
<rect x='825.86' y='436.40' width='1' height='62.35' fill='#f23645'/>
<rect x='824.06' y='436.40' width='4.6' height='41.60' fill='#f23645'/>
<rect x='831.64' y='476.25' width='1' height='61.15' fill='#f23645'/>
<rect x='829.84' y='478.00' width='4.6' height='18.40' fill='#f23645'/>
<rect x='837.42' y='481.80' width='1' height='69.10' fill='#f23645'/>
<rect x='835.62' y='495.80' width='4.6' height='22.90' fill='#f23645'/>
<rect x='843.20' y='501.00' width='1' height='33.50' fill='#f23645'/>
<rect x='841.40' y='518.00' width='4.6' height='2.40' fill='#f23645'/>
<rect x='848.98' y='497.00' width='1' height='40.40' fill='#089981'/>
<rect x='847.18' y='511.00' width='4.6' height='9.40' fill='#089981'/>
<rect x='854.76' y='491.10' width='1' height='34.60' fill='#089981'/>
<rect x='852.96' y='495.00' width='4.6' height='16.00' fill='#089981'/>
<rect x='860.54' y='493.50' width='1' height='40.40' fill='#f23645'/>
<rect x='858.74' y='495.00' width='4.6' height='11.70' fill='#f23645'/>
<rect x='866.32' y='497.00' width='1' height='20.50' fill='#089981'/>
<rect x='864.52' y='504.00' width='4.6' height='2.70' fill='#089981'/>
<rect x='872.10' y='501.10' width='1' height='19.90' fill='#f23645'/>
<rect x='870.30' y='504.00' width='4.6' height='4.70' fill='#f23645'/>
<rect x='877.88' y='498.75' width='1' height='30.45' fill='#f23645'/>
<rect x='876.08' y='508.70' width='4.6' height='20.50' fill='#f23645'/>
<rect x='883.66' y='518.70' width='1' height='46.30' fill='#f23645'/>
<rect x='881.86' y='529.20' width='4.6' height='5.80' fill='#f23645'/>
<rect x='889.44' y='525.10' width='1' height='20.50' fill='#089981'/>
<rect x='887.64' y='533.30' width='4.6' height='1.00' fill='#089981'/>
</svg>
<div style="position:absolute;left:0;top:0;width:792px;height:27.5px;background:#fff"></div>
<div style="position:absolute;left:0;top:27.5px;width:207px;height:38.5px;background:#fff"></div>
<div style="position:absolute;left:0;top:66px;width:124px;height:24.6px;background:rgba(255,255,255,0.5)"></div>
<div class="frame"></div>
<div class="box" style="left:10.2px;top:32.1px;width:79px;height:32px;border:1px solid #ec8d94;"></div>
<div class="box" style="left:126.3px;top:32.4px;width:79.5px;height:32px;border:1px solid #6a90ee;"></div>
<div class="box" style="left:10.4px;top:94.5px;width:26.4px;height:19.4px;border:1px solid #e3e5e9;background:rgba(255,255,255,0.85);border-radius:3px;"></div>
<svg style="position:absolute;left:0;top:0;z-index:2" width="1024" height="644">
  <!-- chevron -->
  <path d="M19.9 106.4 L23.5 103 L27.1 106.4" fill="none" stroke="#131722" stroke-width="1.4"/>
  <!-- bitcoin icon -->
  <circle cx="21.3" cy="12.9" r="5.7" fill="#13928c"/>
  <path d="M19.6 11.2 H23.0 M21.3 11.2 V14.8" stroke="#cdeeea" stroke-width="1.1" fill="none"/>
  <circle cx="15.4" cy="18.4" r="6.6" fill="#ffffff"/>
  <circle cx="15.4" cy="18.4" r="5.8" fill="#f2931c"/>
  <text x="15.4" y="20.9" font-family="Liberation Sans" font-size="6.5" font-weight="700" fill="#fbe3c0" text-anchor="middle">B</text>
  <!-- live dot -->
  <circle cx="269" cy="16.1" r="7.9" fill="#e4f1ee"/>
  <circle cx="269" cy="16.1" r="3.8" fill="#089981"/>
  <!-- price label -->
  <path d="M952 526 H1019 Q1021 526 1021 528 V553.6 Q1021 555.6 1019 555.6 H952 Z" fill="#089981"/>
  <path d="M951.8 600.9 H984.5 Q986 600.9 986 602.4 V615.2 Q986 616.7 984.5 616.7 H951.8 Z" fill="#26a69a"/>
  <!-- lightning -->
  <circle cx="890.1" cy="604.8" r="9.3" fill="#fff" stroke="#8e2bb5" stroke-width="1.5"/>
  <path d="M892.5 600.3 L887.3 605.2 L893.2 604.4 L887.6 609.5" fill="none" stroke="#8e2bb5" stroke-width="1.8" stroke-linecap="round" stroke-linejoin="round"/>
  <!-- gear -->
  <path d="M985.3 625.4 L992.6 625.4 L995.9 630.9 L992.6 636.4 L985.3 636.4 L982.0 630.9 Z" fill="none" stroke="#131722" stroke-width="1.2" stroke-linejoin="round"/>
  <circle cx="988.8" cy="630.9" r="1.9" fill="none" stroke="#131722" stroke-width="1.1"/>
  <!-- TV logo icon -->
  <g stroke="#fff" stroke-width="5" stroke-linejoin="round" fill="#fff">
  <path d="M12.5 589.1 H23.8 V603.1 H18.35 V594.5 H12.5 Z"/>
  <circle cx="29.1" cy="591.8" r="2.9"/>
  <path d="M34.0 589.1 H41.0 L36.1 603.1 H29.3 Z"/>
  </g>
  <g fill="#131722">
  <path d="M12.5 589.1 H23.8 V603.1 H18.35 V594.5 H12.5 Z"/>
  <circle cx="29.1" cy="591.8" r="2.9"/>
  <path d="M34.0 589.1 H41.0 L36.1 603.1 H29.3 Z"/>
  </g>
</svg>
<div class=t style="left:31.50px;top:8.82px;font-size:15.1px;line-height:15.1px;font-weight:400;color:#131722;letter-spacing:0.073px;z-index:1;-webkit-text-stroke:0.2px #131722;">Bitcoin / TetherUS · 1ч · Binance</div>
<div class=t style="left:286.50px;top:10.13px;font-size:12.6px;line-height:12.6px;font-weight:400;color:#131722;letter-spacing:-0.345px;z-index:1;">ОТКР</div>
<div class=t style="left:319.20px;top:10.13px;font-size:12.6px;line-height:12.6px;font-weight:400;color:#22ab94;letter-spacing:0.592px;z-index:1;">62 900,01</div>
<div class=t style="left:386.80px;top:10.13px;font-size:12.6px;line-height:12.6px;font-weight:400;color:#131722;letter-spacing:0.104px;z-index:1;">МАКС</div>
<div class=t style="left:422.80px;top:10.13px;font-size:12.6px;line-height:12.6px;font-weight:400;color:#22ab94;letter-spacing:0.605px;z-index:1;">63 016,00</div>
<div class=t style="left:489.40px;top:10.13px;font-size:12.6px;line-height:12.6px;font-weight:400;color:#131722;letter-spacing:0.480px;z-index:1;">МИН</div>
<div class=t style="left:519.50px;top:10.13px;font-size:12.6px;line-height:12.6px;font-weight:400;color:#22ab94;letter-spacing:0.605px;z-index:1;">62 762,03</div>
<div class=t style="left:586.00px;top:10.13px;font-size:12.6px;line-height:12.6px;font-weight:400;color:#131722;letter-spacing:0.217px;z-index:1;">ЗАКР</div>
<div class=t style="left:618.90px;top:10.13px;font-size:12.6px;line-height:12.6px;font-weight:400;color:#22ab94;letter-spacing:0.555px;z-index:1;">62 910,74</div>
<div class=t style="left:684.70px;top:10.13px;font-size:12.6px;line-height:12.6px;font-weight:400;color:#22ab94;letter-spacing:0.505px;z-index:1;">+10,74 (+0,02%)</div>
<div class=t style="left:20.70px;top:35.97px;font-size:11.5px;line-height:11.5px;font-weight:400;color:#e5434f;letter-spacing:0.915px;z-index:1;-webkit-text-stroke:0.25px #e5434f;">62 917,15</div>
<div class=t style="left:23.20px;top:49.69px;font-size:11.0px;line-height:11.0px;font-weight:400;color:#dc6a72;letter-spacing:0.085px;z-index:1;">ПРОДАТЬ</div>
<div class=t style="left:97.80px;top:42.86px;font-size:10.8px;line-height:10.8px;font-weight:400;color:#3a3e48;letter-spacing:-0.472px;z-index:1;">0,01</div>
<div class=t style="left:137.40px;top:35.97px;font-size:11.5px;line-height:11.5px;font-weight:400;color:#3d6ef0;letter-spacing:0.940px;z-index:1;-webkit-text-stroke:0.25px #3d6ef0;">62 917,16</div>
<div class=t style="left:143.70px;top:49.69px;font-size:11.0px;line-height:11.0px;font-weight:400;color:#5a80da;letter-spacing:0.204px;z-index:1;">КУПИТЬ</div>
<div class=t style="left:10.20px;top:74.29px;font-size:12.3px;line-height:12.3px;font-weight:400;color:#131722;letter-spacing:-0.010px;z-index:1;">Объём · BTC</div>
<div class=t style="left:94.00px;top:74.29px;font-size:12.3px;line-height:12.3px;font-weight:400;color:#22ab94;letter-spacing:0.834px;z-index:1;">223</div>
<div class=t style="left:960.20px;top:15.65px;font-size:11.4px;line-height:11.4px;font-weight:400;color:#131722;letter-spacing:0.650px;z-index:1;">69 200,00</div>
<div class=t style="left:960.20px;top:48.24px;font-size:11.4px;line-height:11.4px;font-weight:400;color:#131722;letter-spacing:0.650px;z-index:1;">68 800,00</div>
<div class=t style="left:960.20px;top:80.83px;font-size:11.4px;line-height:11.4px;font-weight:400;color:#131722;letter-spacing:0.650px;z-index:1;">68 400,00</div>
<div class=t style="left:960.20px;top:113.42px;font-size:11.4px;line-height:11.4px;font-weight:400;color:#131722;letter-spacing:0.650px;z-index:1;">68 000,00</div>
<div class=t style="left:960.20px;top:146.01px;font-size:11.4px;line-height:11.4px;font-weight:400;color:#131722;letter-spacing:0.650px;z-index:1;">67 600,00</div>
<div class=t style="left:960.20px;top:178.60px;font-size:11.4px;line-height:11.4px;font-weight:400;color:#131722;letter-spacing:0.650px;z-index:1;">67 200,00</div>
<div class=t style="left:960.20px;top:211.19px;font-size:11.4px;line-height:11.4px;font-weight:400;color:#131722;letter-spacing:0.650px;z-index:1;">66 800,00</div>
<div class=t style="left:960.20px;top:243.78px;font-size:11.4px;line-height:11.4px;font-weight:400;color:#131722;letter-spacing:0.650px;z-index:1;">66 400,00</div>
<div class=t style="left:960.20px;top:276.37px;font-size:11.4px;line-height:11.4px;font-weight:400;color:#131722;letter-spacing:0.650px;z-index:1;">66 000,00</div>
<div class=t style="left:960.20px;top:308.96px;font-size:11.4px;line-height:11.4px;font-weight:400;color:#131722;letter-spacing:0.650px;z-index:1;">65 600,00</div>
<div class=t style="left:960.20px;top:341.55px;font-size:11.4px;line-height:11.4px;font-weight:400;color:#131722;letter-spacing:0.650px;z-index:1;">65 200,00</div>
<div class=t style="left:960.20px;top:374.14px;font-size:11.4px;line-height:11.4px;font-weight:400;color:#131722;letter-spacing:0.650px;z-index:1;">64 800,00</div>
<div class=t style="left:960.20px;top:406.73px;font-size:11.4px;line-height:11.4px;font-weight:400;color:#131722;letter-spacing:0.650px;z-index:1;">64 400,00</div>
<div class=t style="left:960.20px;top:439.32px;font-size:11.4px;line-height:11.4px;font-weight:400;color:#131722;letter-spacing:0.650px;z-index:1;">64 000,00</div>
<div class=t style="left:960.20px;top:471.91px;font-size:11.4px;line-height:11.4px;font-weight:400;color:#131722;letter-spacing:0.650px;z-index:1;">63 600,00</div>
<div class=t style="left:960.20px;top:504.50px;font-size:11.4px;line-height:11.4px;font-weight:400;color:#131722;letter-spacing:0.650px;z-index:1;">63 200,00</div>
<div class=t style="left:960.20px;top:569.68px;font-size:11.4px;line-height:11.4px;font-weight:400;color:#131722;letter-spacing:0.650px;z-index:1;">62 400,00</div>
<div class=t style="left:960.20px;top:602.27px;font-size:11.4px;line-height:11.4px;font-weight:400;color:#131722;letter-spacing:0.650px;z-index:1;">62 000,00</div>
<div class=t style="left:91.07px;top:624.93px;font-size:12.6px;line-height:12.6px;font-weight:400;color:#131722;letter-spacing:0.000px;z-index:1;">19</div>
<div class=t style="left:229.79px;top:624.93px;font-size:12.6px;line-height:12.6px;font-weight:400;color:#131722;letter-spacing:0.000px;z-index:1;">20</div>
<div class=t style="left:368.51px;top:624.93px;font-size:12.6px;line-height:12.6px;font-weight:400;color:#131722;letter-spacing:0.000px;z-index:1;">21</div>
<div class=t style="left:507.23px;top:624.93px;font-size:12.6px;line-height:12.6px;font-weight:400;color:#131722;letter-spacing:0.000px;z-index:1;">22</div>
<div class=t style="left:645.95px;top:624.93px;font-size:12.6px;line-height:12.6px;font-weight:700;color:#131722;letter-spacing:0.000px;z-index:1;">23</div>
<div class=t style="left:784.67px;top:624.93px;font-size:12.6px;line-height:12.6px;font-weight:400;color:#131722;letter-spacing:0.000px;z-index:1;">24</div>
<div class=t style="left:923.39px;top:624.93px;font-size:12.6px;line-height:12.6px;font-weight:400;color:#131722;letter-spacing:0.000px;z-index:1;">25</div>
<div class=t style="left:959.70px;top:527.95px;font-size:11.4px;line-height:11.4px;font-weight:400;color:#f0fbf8;letter-spacing:0.663px;z-index:3;">62 910,74</div>
<div class=t style="left:959.70px;top:541.05px;font-size:11.4px;line-height:11.4px;font-weight:400;color:#d2efe9;letter-spacing:0.771px;z-index:3;">46:44</div>
<div class=t style="left:960.40px;top:603.18px;font-size:11.6px;line-height:11.6px;font-weight:400;color:#eafaf6;letter-spacing:0.328px;z-index:3;">223</div>
<div class=t style="left:48.50px;top:585.90px;font-size:20.2px;line-height:20.2px;font-weight:700;color:#131722;letter-spacing:-0.355px;z-index:1;-webkit-text-stroke:5px #fff;paint-order:stroke fill;">TradingView</div>
</body></html>
